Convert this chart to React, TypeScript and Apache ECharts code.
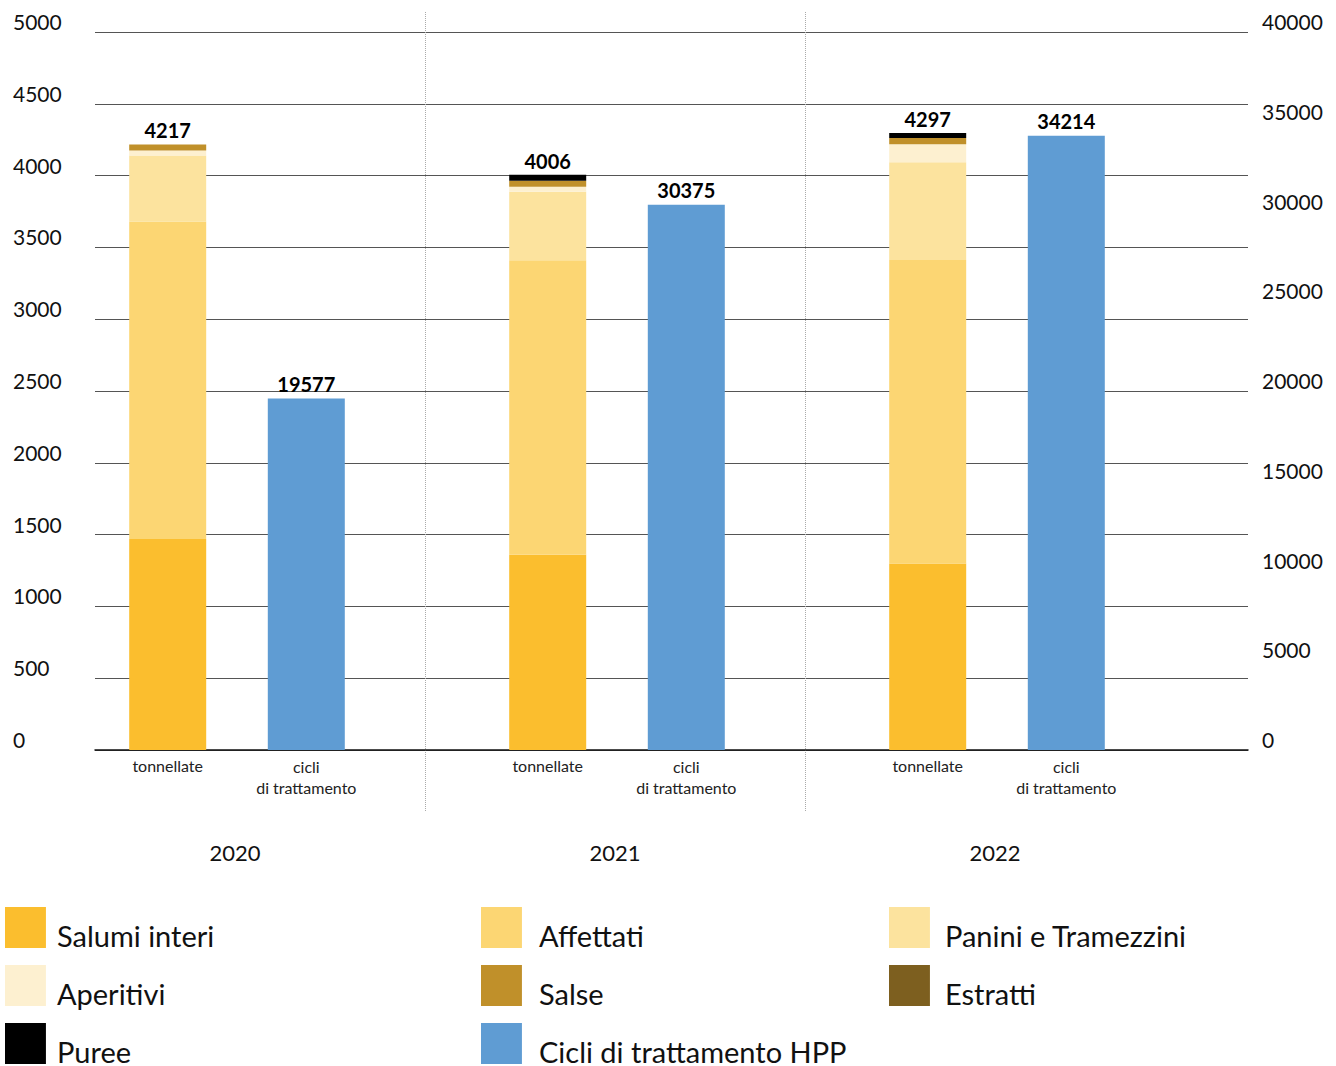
import React, { useEffect, useRef } from "react";
import * as echarts from "echarts";

const years = ["2020", "2021", "2022"];
const salumiInteri = [1469, 1360, 1298];
const affettati = [2211, 2051, 2115];
const paniniTramezzini = [460, 476, 680];
const aperitivi = [35, 35, 125];
const estratti = [0, 0, 0];
const salse = [42, 42, 44];
const puree = [0, 42, 35];
const tonTotals = [4217, 4006, 4297];
const cicliHPP = [19577, 30375, 34214];
const leftTicks = { min: 0, max: 5000, interval: 500 };
const rightTicks = { min: 0, max: 40000, interval: 5000 };

const FONT = "Lato";

export default function App() {
  const ref = useRef<HTMLDivElement>(null);
  useEffect(() => {
    if (!ref.current) return;
    const chart = echarts.init(ref.current, null, { renderer: "svg" });
    const gA = { left: 95, right: 88, top: 32, bottom: 316 };
    const gB = { left: 47, right: 149, top: 32, bottom: 316 };
    const gC = { left: 45, right: 151, top: 12, bottom: 254 };
    const tonSeries = (name: string, data: number[], color: string, extra: any = {}) => ({
      name,
      type: "bar",
      stack: "ton",
      xAxisIndex: 1,
      yAxisIndex: 2,
      barWidth: 77,
      barGap: "80%",
      data,
      itemStyle: { color },
      ...extra,
    });
    const legendText = (padLeft: number) => ({
      fontFamily: FONT,
      fontSize: 29,
      color: "#111",
      padding: [0, 0, 0, padLeft],
      lineHeight: 28,
    });
    const legendBase = {
      orient: "vertical",
      top: 907,
      height: 220,
      padding: 0,
      itemWidth: 41,
      itemHeight: 56,
      itemGap: 2,
      icon: "path://M0 0H41V41H0Z M0 56H0.1V56.1H0Z",
      selectedMode: false,
    };
    const plainNum = (v: number) => String(v);
    chart.setOption({
      animation: false,
      textStyle: { fontFamily: FONT },
      grid: [gA, gB, gC],
      legend: [
        { ...legendBase, left: 5, textStyle: legendText(6), data: ["Salumi interi", "Aperitivi", "Puree"] },
        {
          ...legendBase,
          left: 481,
          textStyle: legendText(12),
          data: ["Affettati", "Salse", "Cicli di trattamento HPP"],
        },
        { ...legendBase, left: 889, textStyle: legendText(10), data: ["Panini e Tramezzini", "Estratti"] },
      ],
      xAxis: [
        {
          type: "category",
          gridIndex: 0,
          data: years,
          axisLine: { show: true, lineStyle: { color: "#111", width: 1.5 } },
          axisTick: { show: false },
          axisLabel: { show: false },
        },
        {
          type: "category",
          gridIndex: 1,
          data: years,
          axisLine: { show: false },
          axisTick: { show: false },
          axisLabel: { show: false },
        },
        {
          type: "category",
          gridIndex: 2,
          data: years,
          axisLine: { show: false },
          axisTick: { show: false },
          axisLabel: { show: true, fontFamily: FONT, fontSize: 22, color: "#111", margin: 29 },
          splitLine: {
            show: true,
            showMinLine: false,
            showMaxLine: false,
            lineStyle: { color: "#aaa", type: "dotted", width: 1 },
          },
        },
      ],
      yAxis: [
        {
          type: "value",
          gridIndex: 0,
          ...leftTicks,
          axisLine: { show: false },
          axisTick: { show: false },
          splitLine: { show: true, lineStyle: { color: "#555", width: 1 } },
          axisLabel: {
            fontFamily: FONT,
            fontSize: 21,
            color: "#111",
            align: "left",
            margin: 82,
            verticalAlign: "bottom",
            formatter: plainNum,
          },
        },
        {
          type: "value",
          gridIndex: 0,
          position: "right",
          ...rightTicks,
          axisLine: { show: false },
          axisTick: { show: false },
          splitLine: { show: false },
          axisLabel: {
            fontFamily: FONT,
            fontSize: 21,
            color: "#111",
            align: "left",
            margin: 14,
            verticalAlign: "bottom",
            formatter: plainNum,
          },
        },
        { type: "value", gridIndex: 1, ...leftTicks, show: false, splitLine: { show: false } },
        { type: "value", gridIndex: 1, ...rightTicks, show: false, splitLine: { show: false } },
        { type: "value", gridIndex: 2, show: false, splitLine: { show: false } },
      ],
      series: [
        tonSeries("Salumi interi", salumiInteri, "#FBBE2E", {
          label: {
            show: true,
            position: "bottom",
            distance: 7,
            formatter: () => "tonnellate",
            fontFamily: FONT,
            fontSize: 16,
            color: "#222",
          },
        }),
        tonSeries("Affettati", affettati, "#FCD673"),
        tonSeries("Panini e Tramezzini", paniniTramezzini, "#FCE39E"),
        tonSeries("Aperitivi", aperitivi, "#FDF0D0"),
        tonSeries("Estratti", estratti, "#7D5F1F"),
        tonSeries("Salse", salse, "#C0902A"),
        tonSeries("Puree", puree, "#000000", {
          label: {
            show: true,
            position: "top",
            distance: 4,
            formatter: (p: any) => String(tonTotals[p.dataIndex]),
            fontFamily: FONT,
            fontSize: 20,
            fontWeight: "bold",
            color: "#000",
          },
        }),
        {
          name: "cicliLabel",
          type: "bar",
          stack: "hpp",
          xAxisIndex: 1,
          yAxisIndex: 3,
          barWidth: 77,
          data: cicliHPP.map(() => 0),
          itemStyle: { color: "rgba(0,0,0,0)" },
          label: {
            show: true,
            position: "bottom",
            distance: 6,
            formatter: () => "cicli\ndi trattamento",
            fontFamily: FONT,
            fontSize: 16,
            lineHeight: 21,
            align: "center",
            color: "#222",
          },
        },
        {
          name: "Cicli di trattamento HPP",
          type: "bar",
          stack: "hpp",
          xAxisIndex: 1,
          yAxisIndex: 3,
          barWidth: 77,
          data: cicliHPP,
          itemStyle: { color: "#5F9CD3" },
          label: {
            show: true,
            position: "top",
            distance: 5,
            fontFamily: FONT,
            fontSize: 20,
            fontWeight: "bold",
            color: "#000",
          },
        },
      ],
    });
    return () => chart.dispose();
  }, []);
  return (
    <div
      ref={ref}
      style={{ position: "fixed", left: 0, top: 0, width: 1336, height: 1066, background: "#fff" }}
    />
  );
}
